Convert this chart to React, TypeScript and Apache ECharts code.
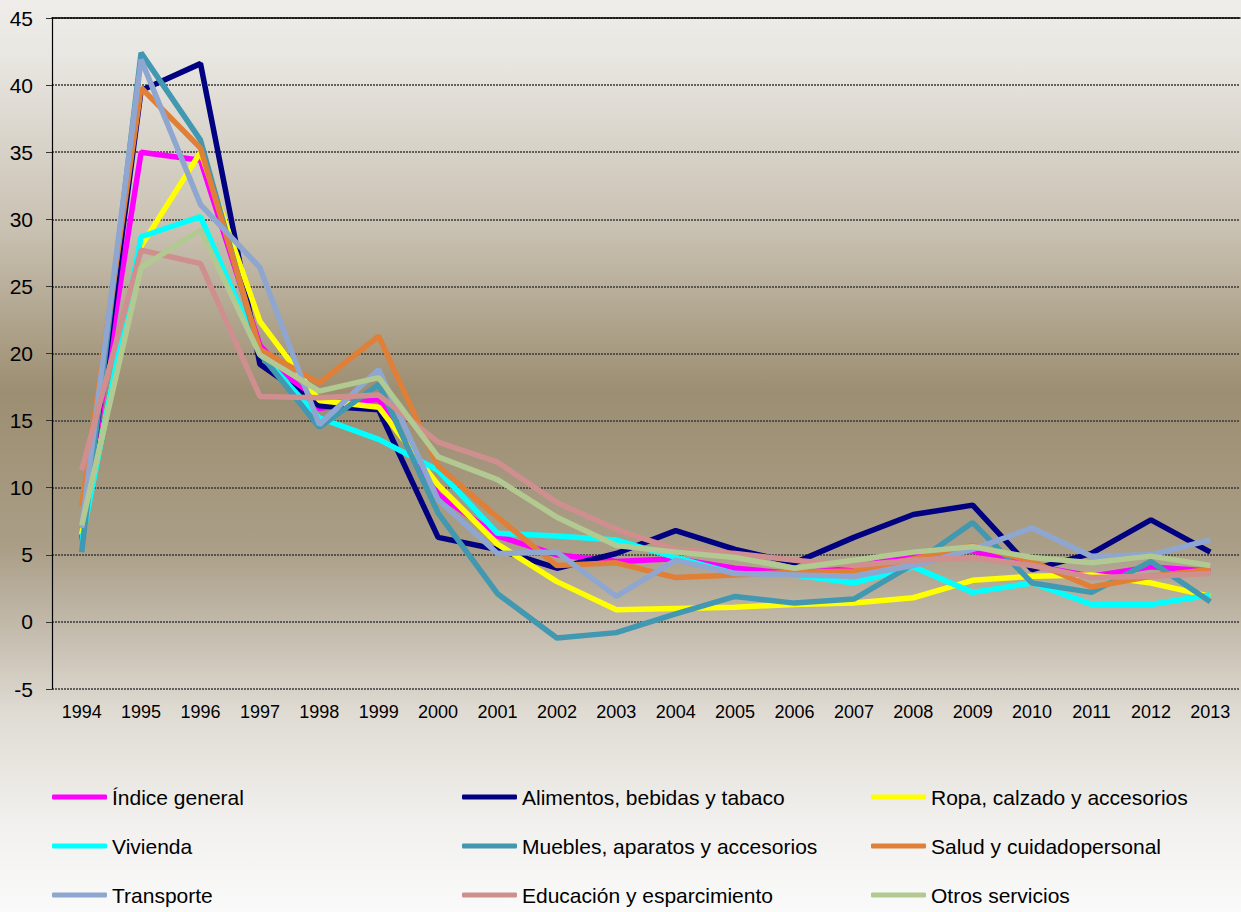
import React, { useEffect, useRef } from "react";
import * as echarts from "echarts";

const years = ["1994","1995","1996","1997","1998","1999","2000","2001","2002","2003","2004","2005","2006","2007","2008","2009","2010","2011","2012","2013"];

const indiceGeneral = [7.0, 35.0, 34.4, 20.6, 15.9, 16.6, 9.5, 6.4, 5.0, 4.5, 4.7, 4.0, 3.6, 4.0, 5.1, 5.3, 4.2, 3.4, 4.1, 3.8];
const alimentos = [6.0, 39.6, 41.6, 19.2, 16.1, 15.8, 6.3, 5.4, 4.0, 5.1, 6.8, 5.4, 4.4, 6.3, 8.0, 8.7, 3.9, 5.1, 7.6, 5.2];
const ropa = [6.5, 28.0, 35.0, 22.4, 16.5, 16.0, 10.2, 5.8, 3.0, 0.9, 1.0, 1.1, 1.3, 1.4, 1.8, 3.1, 3.4, 3.5, 2.9, 1.9];
const vivienda = [6.0, 28.7, 30.2, 20.0, 15.2, 13.6, 11.3, 6.6, 6.4, 6.1, 4.8, 3.6, 3.5, 2.9, 4.1, 2.2, 2.9, 1.3, 1.3, 2.0];
const muebles = [5.2, 42.4, 35.9, 20.0, 14.5, 17.7, 8.1, 2.1, -1.2, -0.8, 0.6, 1.9, 1.4, 1.7, 4.3, 7.4, 2.9, 2.2, 4.5, 1.5];
const salud = [8.6, 39.8, 35.3, 20.3, 17.8, 21.3, 11.6, 7.8, 4.2, 4.4, 3.3, 3.5, 3.7, 3.8, 4.7, 5.7, 4.5, 2.6, 3.4, 3.9];
const transporte = [7.0, 41.9, 31.1, 26.4, 14.7, 18.8, 9.1, 5.1, 5.2, 1.9, 4.6, 3.6, 3.5, 3.4, 4.2, 5.4, 7.0, 4.9, 5.0, 6.1];
const educacion = [11.3, 27.7, 26.7, 16.8, 16.7, 16.9, 13.4, 11.9, 8.9, 6.9, 5.4, 5.1, 4.6, 4.2, 4.6, 4.8, 4.2, 3.3, 3.4, 3.6];
const otros = [7.2, 26.4, 29.2, 19.9, 17.2, 18.2, 12.3, 10.6, 7.8, 5.7, 5.2, 4.8, 4.0, 4.6, 5.2, 5.6, 4.8, 4.4, 4.9, 4.2];

const seriesNames = [
  "Índice general",
  "Alimentos, bebidas y tabaco",
  "Ropa, calzado y accesorios",
  "Vivienda",
  "Muebles, aparatos y accesorios",
  "Salud y cuidadopersonal",
  "Transporte",
  "Educación y esparcimiento",
  "Otros servicios",
];
const seriesData = [indiceGeneral, alimentos, ropa, vivienda, muebles, salud, transporte, educacion, otros];
const seriesColors = ["#ff00ff", "#000080", "#ffff00", "#00ffff", "#4198b0", "#e07f38", "#8fa7d0", "#cf8f8f", "#b2c992"];

const FONT = "'Liberation Sans', Arial, sans-serif";
const legendColumnsLeft = [52, 462, 871];
const legendRowsCenter = [797, 846, 895];

export default function App() {
  const ref = useRef<HTMLDivElement>(null);
  useEffect(() => {
    if (!ref.current) return;
    const chart = echarts.init(ref.current, undefined, { renderer: "svg" });
    const legends = seriesNames.map((name, i) => ({
      orient: "horizontal" as const,
      left: legendColumnsLeft[i % 3],
      top: legendRowsCenter[Math.floor(i / 3)] - 12,
      itemWidth: 55,
      itemHeight: 5,
      icon: "roundRect",
      padding: 0,
      data: [name],
      textStyle: { fontSize: 21, lineHeight: 24, color: "#000", fontFamily: FONT },
    }));
    chart.setOption({
      animation: false,
      backgroundColor: new echarts.graphic.LinearGradient(0, 0, 0, 1, [
        { offset: 0, color: "#eeede9" },
        { offset: 0.06, color: "#e9e7e2" },
        { offset: 0.25, color: "#c9c1b2" },
        { offset: 0.43, color: "#9c8e71" },
        { offset: 0.6, color: "#aa9e87" },
        { offset: 0.7, color: "#c6beb0" },
        { offset: 0.78, color: "#dfdbd3" },
        { offset: 0.9, color: "#f1f0ed" },
        { offset: 1, color: "#fafafa" },
      ]),
      grid: { left: 52, right: 1, top: 18, bottom: 223, containLabel: false },
      legend: legends,
      xAxis: [
        {
          type: "category",
          data: years,
          boundaryGap: true,
          axisLine: { show: false },
          axisTick: { show: false },
          axisLabel: { fontSize: 18, color: "#000", fontFamily: FONT, margin: 14 },
        },
        {
          type: "category",
          data: years,
          position: "top",
          axisLine: { show: true, lineStyle: { color: "#000", width: 1.5 } },
          axisTick: { show: false },
          axisLabel: { show: false },
        },
      ],
      yAxis: {
        type: "value",
        min: -5,
        max: 45,
        interval: 5,
        axisLine: { show: true, lineStyle: { color: "#000", width: 1.2 } },
        axisTick: { show: true, length: 6, lineStyle: { color: "#333" } },
        axisLabel: { fontSize: 21, color: "#000", fontFamily: FONT, margin: 19 },
        splitLine: { show: true, lineStyle: { color: "#3a3a3a", type: [2, 1], width: 1.5 } },
      },
      series: seriesNames.map((name, i) => ({
        name,
        type: "line",
        data: seriesData[i],
        symbol: "none",
        lineStyle: { color: seriesColors[i], width: 5.5 },
        itemStyle: { color: seriesColors[i] },
        z: 2 + i,
      })),
    });
    return () => chart.dispose();
  }, []);
  return (
    <div
      ref={ref}
      style={{ position: "fixed", left: 0, top: 0, width: 1241, height: 912 }}
    />
  );
}
